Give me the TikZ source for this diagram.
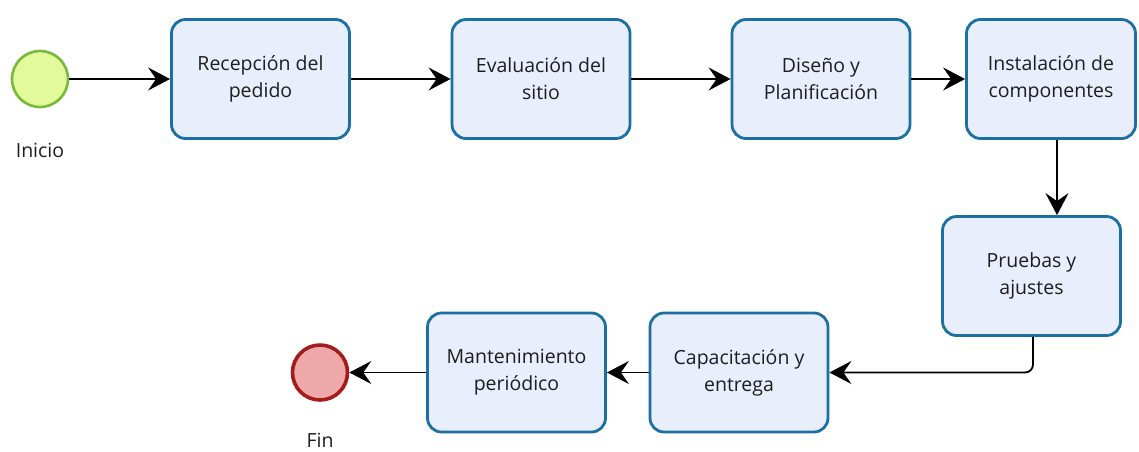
\documentclass[tikz,border=0pt]{standalone}
\usepackage{fontspec}
\setmainfont{Open Sans}
\usetikzlibrary{arrows.meta}

\definecolor{taskfill}{HTML}{E8EEFB}
\definecolor{taskline}{HTML}{1B6FA3}
\definecolor{startfill}{HTML}{E2F99C}
\definecolor{startline}{HTML}{79B93A}
\definecolor{endfill}{HTML}{EEA9A9}
\definecolor{endline}{HTML}{A41C1C}
\definecolor{txt}{HTML}{1E1E1E}

\tikzset{
  task/.style={rectangle,rounded corners=14pt,draw=taskline,fill=taskfill,line width=2.8pt,
    minimum width=178pt,minimum height=119pt,align=center,text=txt,font=\fontsize{19.5}{27}\selectfont},
  startev/.style={circle,draw=startline,fill=startfill,line width=2.6pt,minimum size=56pt,inner sep=0pt},
  endev/.style={circle,draw=endline,fill=endfill,line width=3.6pt,minimum size=55pt,inner sep=0pt},
  evlabel/.style={text=txt,font=\fontsize{19.5}{22}\selectfont},
  flow/.style={draw=black,line width=1.8pt,-{Stealth[length=22pt,width=23pt,inset=8pt]}}
}

\begin{document}
\begin{tikzpicture}[x=1pt,y=-1pt]
  \useasboundingbox (0,0) rectangle (1139,451);

  \node[startev] (inicio) at (40,79) {};
  \node[evlabel] (linicio) at (40,150) {Inicio};

  \node[task] (recep)  at (260.5,79) {Recepción del\\pedido};
  \node[task] (evalu)  at (541,79)   {Evaluación del\\sitio};
  \node[task] (disen)  at (821,79)   {Diseño y\\Planificación};
  \node[task,minimum width=169pt] (insta) at (1051,79) {Instalación de\\componentes};
  \node[task] (prueb)  at (1031.5,276) {Pruebas y\\ajustes};
  \node[task] (capac)  at (739,372.5)  {Capacitación y\\entrega};
  \node[task] (mante)  at (516.5,372.5) {Mantenimiento\\periódico};

  \node[endev] (fin) at (320,372.5) {};
  \node[evlabel] (lfin) at (320,440) {Fin};

  \foreach \from/\to in {inicio/recep,recep/evalu,evalu/disen,disen/insta,capac/mante,mante/fin}
    \draw[flow] (\from) -- (\to);

  \draw[flow] ([xshift=6pt]insta.south) -- ([xshift=25.5pt]prueb.north);
  \draw[flow,rounded corners=8pt] ([xshift=1.5pt]prueb.south) |- (capac.east);

\end{tikzpicture}
\end{document}
